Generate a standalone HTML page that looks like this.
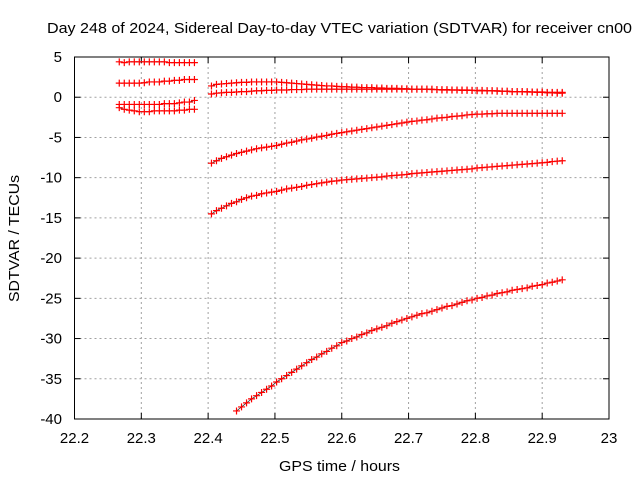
<!DOCTYPE html>
<html><head><meta charset="utf-8"><style>
body{margin:0;background:#fff}
svg{display:block;font-family:"Liberation Sans",sans-serif}
</style></head><body>
<svg id="chart" width="640" height="480" xmlns="http://www.w3.org/2000/svg">
<rect width="640" height="480" fill="#fff"/>
<text x="47" y="33" font-size="15" textLength="585" lengthAdjust="spacingAndGlyphs">Day 248 of 2024, Sidereal Day-to-day VTEC variation (SDTVAR) for receiver cn00</text>
<text x="279" y="471" font-size="15" textLength="121" lengthAdjust="spacingAndGlyphs">GPS time / hours</text>
<text x="0" y="0" font-size="15" text-anchor="middle" textLength="127" lengthAdjust="spacingAndGlyphs" transform="translate(19,238.5) rotate(-90)">SDTVAR / TECUs</text>
<g id="grid"></g><g id="axes"></g><g id="marks"></g>
<rect x="74.5" y="57" width="534.5" height="362" fill="none" stroke="#000" stroke-width="1"/>
</svg>
<script>
const xTicks=[22.2,22.3,22.4,22.5,22.6,22.7,22.8,22.9,23];
const xTickLabels=["22.2","22.3","22.4","22.5","22.6","22.7","22.8","22.9","23"];
const yTicks=[5,0,-5,-10,-15,-20,-25,-30,-35,-40];
const yTickLabels=["5","0","-5","-10","-15","-20","-25","-30","-35","-40"];
const step=0.0075;
const seg1Start=22.267;
const seriesA=[4.4,4.3,4.4,4.4,4.4,4.4,4.4,4.4,4.4,4.4,4.3,4.3,4.3,4.3,4.3,4.3];
const seriesB=[1.75,1.75,1.75,1.75,1.75,1.8,1.9,1.9,1.9,2.0,2.0,2.1,2.1,2.2,2.2,2.2];
const seriesC=[-0.9,-0.9,-0.9,-0.9,-0.9,-0.9,-0.9,-0.9,-0.9,-0.8,-0.8,-0.8,-0.7,-0.6,-0.6,-0.4];
const seriesD=[-1.3,-1.5,-1.6,-1.7,-1.8,-1.8,-1.8,-1.7,-1.7,-1.7,-1.7,-1.7,-1.6,-1.6,-1.5,-1.5];
const seg2Start=22.405;
const seriesE=[1.4,1.6,1.65,1.7,1.75,1.8,1.85,1.85,1.9,1.9,1.9,1.9,1.9,1.9,1.85,1.8,1.75,1.7,1.65,1.6,1.55,1.5,1.45,1.4,1.4,1.35,1.3,1.3,1.25,1.25,1.2,1.2,1.2,1.15,1.15,1.1,1.1,1.1,1.05,1.05,1.0,1.0,1.0,1.0,0.95,0.95,0.9,0.9,0.9,0.9,0.85,0.85,0.85,0.8,0.8,0.8,0.8,0.75,0.75,0.75,0.7,0.7,0.7,0.7,0.65,0.65,0.65,0.6,0.6,0.6,0.6];
const seriesF=[0.4,0.5,0.55,0.6,0.6,0.65,0.7,0.7,0.75,0.8,0.8,0.85,0.85,0.9,0.9,0.9,0.95,0.95,0.95,1.0,1.0,1.0,1.0,1.0,1.0,1.0,1.0,1.0,1.0,1.0,1.0,1.0,1.0,1.0,1.0,1.0,1.0,1.0,1.0,1.0,1.0,1.0,1.0,1.0,1.0,0.95,0.95,0.95,0.9,0.9,0.9,0.9,0.85,0.85,0.85,0.8,0.8,0.8,0.75,0.75,0.7,0.7,0.7,0.65,0.65,0.6,0.6,0.55,0.55,0.5,0.5];
const seriesG=[-8.2,-7.9,-7.6,-7.4,-7.2,-7.0,-6.85,-6.7,-6.55,-6.4,-6.3,-6.2,-6.1,-6.0,-5.85,-5.7,-5.6,-5.45,-5.3,-5.2,-5.1,-4.95,-4.85,-4.75,-4.6,-4.5,-4.4,-4.3,-4.2,-4.1,-4.0,-3.9,-3.8,-3.7,-3.6,-3.5,-3.4,-3.3,-3.2,-3.1,-3.0,-2.95,-2.85,-2.8,-2.7,-2.6,-2.55,-2.5,-2.4,-2.35,-2.3,-2.2,-2.15,-2.1,-2.1,-2.05,-2.05,-2.0,-2.0,-2.0,-2.0,-2.0,-2.0,-2.0,-2.0,-2.0,-2.0,-2.0,-2.0,-2.0,-2.0];
const seriesH=[-14.5,-14.1,-13.8,-13.5,-13.2,-13.0,-12.7,-12.5,-12.3,-12.2,-12.0,-11.9,-11.8,-11.7,-11.55,-11.4,-11.3,-11.2,-11.1,-10.95,-10.85,-10.75,-10.65,-10.55,-10.45,-10.4,-10.3,-10.25,-10.2,-10.15,-10.1,-10.05,-10.0,-9.95,-9.9,-9.8,-9.75,-9.7,-9.65,-9.6,-9.5,-9.45,-9.4,-9.35,-9.3,-9.25,-9.2,-9.15,-9.1,-9.05,-9.0,-8.95,-8.9,-8.8,-8.75,-8.7,-8.65,-8.6,-8.55,-8.5,-8.45,-8.4,-8.35,-8.3,-8.25,-8.2,-8.15,-8.1,-8.0,-7.95,-7.9];
const seg3Start=22.4425;
const seriesI=[-39,-38.5,-38.0,-37.5,-37.1,-36.7,-36.3,-35.9,-35.4,-35.0,-34.6,-34.2,-33.8,-33.4,-33.0,-32.6,-32.3,-31.9,-31.6,-31.2,-30.9,-30.5,-30.3,-30.0,-29.8,-29.5,-29.3,-29.0,-28.8,-28.6,-28.4,-28.1,-27.9,-27.7,-27.5,-27.3,-27.1,-26.9,-26.8,-26.6,-26.4,-26.2,-26.0,-25.9,-25.7,-25.5,-25.3,-25.2,-25.0,-24.9,-24.7,-24.6,-24.4,-24.3,-24.2,-24.0,-23.9,-23.8,-23.7,-23.5,-23.4,-23.3,-23.1,-23.0,-22.85,-22.7];

const NS="http://www.w3.org/2000/svg";
const X0=74.5,X1=609,Y0=419,Y1=57;
function xs(v){return X0+(v-22.2)/(0.8)*(X1-X0);}
function ys(v){return Y0-(v+40)/45*(Y0-Y1);}
function mk(tag,attrs,parent){const e=document.createElementNS(NS,tag);for(const k in attrs)e.setAttribute(k,attrs[k]);parent.appendChild(e);return e;}
const grid=document.getElementById('grid'),axes=document.getElementById('axes'),marks=document.getElementById('marks');
xTicks.forEach((t,i)=>{
  const x=xs(t);
  if(i>0&&i<xTicks.length-1){
    const g=mk('line',{x1:x,x2:x,y1:Y1,y2:Y0,stroke:'#a0a0a0','stroke-dasharray':'2,3'},grid);
    
    
  }
  mk('line',{x1:x,x2:x,y1:Y0,y2:Y0-6,stroke:'#000'},axes);
  mk('line',{x1:x,x2:x,y1:Y1,y2:Y1+6,stroke:'#000'},axes);
  const l=mk('text',{x:x,y:443,'font-size':15,'text-anchor':'middle'},axes);
  l.textContent=xTickLabels[i];
  
  
});
yTicks.forEach((t,i)=>{
  const y=ys(t);
  if(i>0&&i<yTicks.length-1){
    const g=mk('line',{x1:X0,x2:X1,y1:y,y2:y,stroke:'#a0a0a0','stroke-dasharray':'2,3'},grid);
    
    
  }
  mk('line',{x1:X0,x2:X0+6,y1:y,y2:y,stroke:'#000'},axes);
  mk('line',{x1:X1,x2:X1-6,y1:y,y2:y,stroke:'#000'},axes);
  const l=mk('text',{x:62,y:y+5,'font-size':15,'text-anchor':'end'},axes);
  l.textContent=yTickLabels[i];
  
  
});
function drawSeries(vals,start,name){
  const g=mk('g',{},marks);
  
  
  let d='';
  vals.forEach((v,i)=>{const x=xs(start+i*step),y=ys(v);d+=(i?'L':'M')+x.toFixed(1)+' '+y.toFixed(1);});
  mk('path',{d:d,fill:'none',stroke:'#333',"stroke-width":0.8},g);
  vals.forEach((v,i)=>{
    const x=xs(start+i*step),y=ys(v);
    mk('path',{d:`M${x-3.5} ${y}h7M${x} ${y-3.5}v7`,stroke:'#f00','stroke-width':1.2},g);
  });
}
drawSeries(seriesA,seg1Start,'series-a');
drawSeries(seriesB,seg1Start,'series-b');
drawSeries(seriesC,seg1Start,'series-c');
drawSeries(seriesD,seg1Start,'series-d');
drawSeries(seriesE,seg2Start,'series-e');
drawSeries(seriesF,seg2Start,'series-f');
drawSeries(seriesG,seg2Start,'series-g');
drawSeries(seriesH,seg2Start,'series-h');
drawSeries(seriesI,seg3Start,'series-i');
</script>
</body></html>
